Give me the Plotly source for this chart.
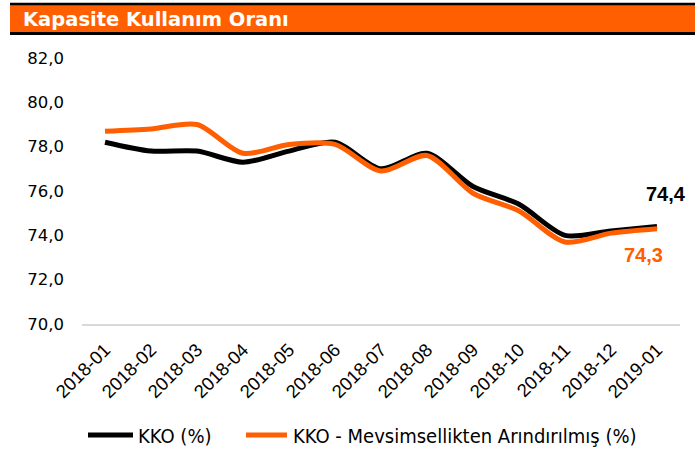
import plotly.graph_objects as go

months = ["2018-01", "2018-02", "2018-03", "2018-04", "2018-05", "2018-06", "2018-07",
          "2018-08", "2018-09", "2018-10", "2018-11", "2018-12", "2019-01"]
kko = [78.2, 77.8, 77.8, 77.3, 77.8, 78.2, 77.0, 77.7, 76.2, 75.4, 74.0, 74.2, 74.4]
kko_sa = [78.7, 78.8, 79.0, 77.7, 78.1, 78.1, 76.9, 77.6, 75.9, 75.1, 73.7, 74.1, 74.3]
yticks = [70, 72, 74, 76, 78, 80, 82]
names = ["KKO (%)", "KKO - Mevsimsellikten Arındırılmış (%)"]

ORANGE = "#FF5F00"
NARROW = "Liberation Sans Narrow, DejaVu Sans Condensed, Liberation Sans"
ARIAL = "Liberation Sans"
TAHOMA = "DejaVu Sans"

fig = go.Figure()
fig.add_trace(go.Scatter(x=months, y=kko, name=names[0], mode="lines",
                         line=dict(color="black", width=5, shape="spline", smoothing=0.8)))
fig.add_trace(go.Scatter(x=months, y=kko_sa, name=names[1], mode="lines",
                         line=dict(color=ORANGE, width=5, shape="spline", smoothing=0.8)))

# end labels
fig.add_annotation(x=months[-1], y=kko[-1], text="<b>" + f"{kko[-1]:.1f}".replace(".", ",") + "</b>",
                   showarrow=False, yshift=32, xshift=9,
                   font=dict(color="black", size=20, family=ARIAL))
fig.add_annotation(x=months[-1], y=kko_sa[-1], text="<b>" + f"{kko_sa[-1]:.1f}".replace(".", ",") + "</b>",
                   showarrow=False, yshift=-26, xshift=-14,
                   font=dict(color=ORANGE, size=20, family=ARIAL))

# pixel helpers for layout decoration
L, T, H, W = 82, 58, 266, 598
def px(x):
    return (x - L) / W
def py(y):
    return (T + H - y) / H

# title banner
fig.add_shape(type="rect", xref="paper", yref="paper", x0=px(10), x1=px(695),
              y0=py(33), y1=py(5), fillcolor=ORANGE, line=dict(width=0), layer="above")
fig.add_shape(type="line", xref="paper", yref="paper", x0=px(10), x1=px(695),
              y0=py(4), y1=py(4), line=dict(color="black", width=2.5))
fig.add_shape(type="line", xref="paper", yref="paper", x0=px(10), x1=px(695),
              y0=py(33.5), y1=py(33.5), line=dict(color="black", width=3))
fig.add_annotation(xref="paper", yref="paper", x=px(21), y=py(19.5), xanchor="left",
                   yanchor="middle", showarrow=False, text="<b>Kapasite Kullanım Oranı</b>",
                   font=dict(color="white", size=19.5, family=TAHOMA))

# legend (custom, bottom)
for (x0, x1, tx), col, nm in zip([(88, 133, 136), (246, 287, 291)], ["black", ORANGE], names):
    fig.add_shape(type="line", xref="paper", yref="paper", x0=px(x0), x1=px(x1),
                  y0=py(435), y1=py(435), line=dict(color=col, width=5))
    fig.add_annotation(xref="paper", yref="paper", x=px(tx), y=py(435.5), xanchor="left",
                       yanchor="middle", showarrow=False, text=nm,
                       font=dict(color="black", size=20, family=NARROW))

fig.update_layout(
    width=695, height=450,
    margin=dict(l=L, r=695 - L - W, t=T, b=450 - T - H, autoexpand=False),
    paper_bgcolor="white", plot_bgcolor="white",
    separators=",.",
    font=dict(family=ARIAL, color="black"),
    showlegend=False,
    xaxis=dict(type="category", range=[-0.5, 12.5], tickangle=-45, showgrid=False,
               tickfont=dict(size=18.5, family=ARIAL), showline=True, linecolor="#D9D9D9",
               linewidth=1.5, ticks="", ticklabelstandoff=6, automargin=False),
    yaxis=dict(range=[70, 82], tickvals=yticks, tickformat=".1f", showgrid=False,
               zeroline=False, showline=False, tickfont=dict(size=16.5, family=TAHOMA),
               ticks="", ticklabelstandoff=17, automargin=False),
)

fig.write_html("out.html", config={"displayModeBar": False},
               post_script="document.body.style.margin='0px';document.body.style.overflow='hidden';")
